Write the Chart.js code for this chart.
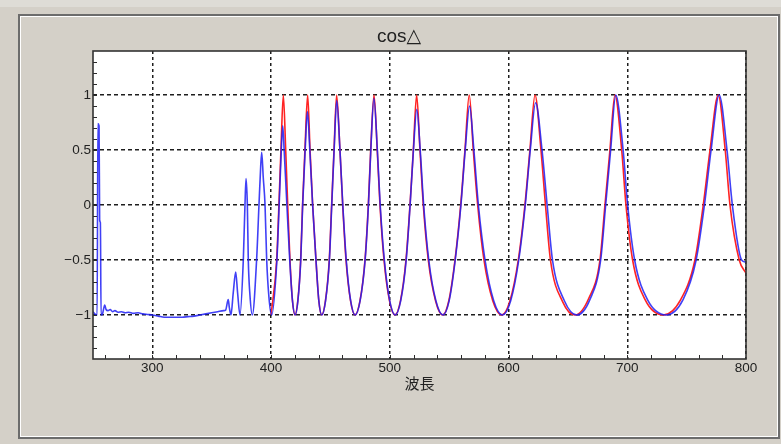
<!DOCTYPE html>
<html>
<head>
<meta charset="utf-8">
<script src="https://cdn.jsdelivr.net/npm/chart.js@4.4.1/dist/chart.umd.min.js"></script>
<style>
  html, body { margin: 0; padding: 0; }
  body { width: 781px; height: 444px; background: #d4d0c8; position: relative; overflow: hidden; }
  #strip { position: absolute; left: 0; top: 0; width: 781px; height: 7px; background: #dedcd6; }
  #frame { position: absolute; left: 18px; top: 14px; width: 762px; height: 425px; box-sizing: border-box;
           border: 2px solid #6c6c6c; box-shadow: inset 1px 1px 0 #fff, inset -1px -1px 0 #fff; }
  #cosChart { position: absolute; left: 19px; top: 15px; }
</style>
</head>
<body>
<div id="strip"></div>
<div id="frame"></div>
<canvas id="cosChart" width="760" height="424"></canvas>
<script>
// measured (blue) - wavelength / cos delta
const blueX = [
  250, 251.5, 253.5, 254.1, 255.1, 255.6, 256.2, 256.8, 258.0, 259.9,
  261.0, 262.6, 264.5, 266.5, 268.5, 271, 274, 277, 280, 284,
  288, 292, 296, 300, 305, 310, 315, 320, 325, 330,
  335, 340, 345, 350, 355, 360, 361.7, 363.9, 364.8, 366.2,
  368.1, 370.2, 371.8, 373.8, 376.6, 378.0, 378.9, 380.0, 380.8, 382.2,
  384.2, 387.8, 389.8, 391.2, 392.1, 393.4, 394.9, 396.3, 398.2, 400.5,
  404.9, 406.8, 408.6, 409.8, 411.0, 413.3, 415.7, 418.0, 420.3,
  422.6, 425.0, 426.6, 428.7, 430.6, 432.6, 435.0, 437.8, 440.2, 442.7,
  445.9, 449.1, 451.1, 453.1, 455.3, 458.0, 460.4, 463.3, 467.0, 470.8,
  475.0, 479.2, 482.0, 484.0, 486.6, 489.5, 491.9, 495.4, 499.9, 504.5,
  509.2, 513.8, 517.1, 519.9, 522.7, 525.6, 528.5, 532.8, 538.8, 544.8,
  550.0, 555.1, 559.9, 563.5, 567.2, 570.8, 574.6, 580.2, 587.5, 594.8,
  601.8, 608.6, 614.1, 618.3, 622.8, 628.2, 632.5, 637.0, 647.0, 657.5,
  668.5, 677.6, 681.8, 686.0, 690.3, 696.5, 700.3, 706.2, 717.0, 733.0,
  747.0, 758.0, 765.0, 770.6, 777.4, 784.0, 788.5, 796.3, 800
];
const blueY = [
  -0.97, -0.99, -1.0, 0.74, 0.72, -0.14, -0.16, -1.0, -0.99, -0.91,
  -0.95, -0.96, -0.95, -0.97, -0.96, -0.975, -0.97, -0.98, -0.975, -0.985,
  -0.98, -0.99, -0.995, -1.0, -1.01, -1.02, -1.02, -1.02, -1.02, -1.015,
  -1.01, -1.0, -0.99, -0.98, -0.97, -0.96, -0.955, -0.86, -0.93, -1.0,
  -0.8, -0.61, -0.8, -1.0, -0.5, 0, 0.24, 0, -0.5, -0.82,
  -1.0, -0.5, 0, 0.34, 0.48, 0.25, 0, -0.5, -0.84, -1,
  -0.5, 0, 0.5, 0.72, 0.5, 0, -0.5, -0.87, -1,
  -0.87, -0.5, 0, 0.5, 0.85, 0.5, 0, -0.5, -0.87, -1,
  -0.87, -0.5, 0, 0.5, 0.95, 0.5, 0, -0.5, -0.87, -1,
  -0.87, -0.5, 0, 0.5, 0.97, 0.5, 0, -0.5, -0.87, -1,
  -0.87, -0.5, 0, 0.5, 0.87, 0.5, 0, -0.5, -0.87, -1,
  -0.87, -0.5, 0, 0.5, 0.9, 0.5, 0, -0.5, -0.87, -1,
  -0.87, -0.5, 0, 0.5, 0.93, 0.5, 0, -0.5, -0.87, -1,
  -0.86, -0.5, 0, 0.5, 1, 0.5, 0, -0.5, -0.86, -1,
  -0.86, -0.5, 0, 0.5, 1, 0.5, 0, -0.5, -0.52
];

// fitted (red)
const redX = [
  400, 404.7, 406.6, 408.3, 410.3, 412.3, 414.0, 415.9, 418.0, 420.1,
  422.5, 424.9, 426.5, 428.5, 430.8, 432.8, 435.0, 437.8, 440.2, 442.6,
  445.8, 449.0, 451.0, 453.0, 455.2, 458.0, 460.3, 463.1, 466.9, 470.7,
  474.9, 479.1, 481.9, 483.9, 486.7, 489.4, 491.7, 495.1, 499.7, 504.3,
  509.0, 513.6, 517.0, 519.8, 522.6, 525.4, 528.2, 532.4, 538.5, 544.5,
  549.7, 554.9, 559.7, 563.3, 566.9, 570.3, 574.0, 579.3, 586.7, 594.2,
  601.2, 608.2, 613.8, 618.0, 622.3, 627.3, 631.1, 635.3, 645.6, 656.0,
  667.5, 677.0, 681.2, 685.4, 689.6, 695.3, 698.9, 704.5, 715.0, 730.3,
  745.0, 757.0, 764.0, 769.7, 776.6, 782.5, 786.5, 794.3, 800
];
const redY = [
  -1, -0.5, 0, 0.5, 1, 0.5, 0, -0.5, -0.87, -1,
  -0.87, -0.5, 0, 0.5, 1, 0.5, 0, -0.5, -0.87, -1,
  -0.87, -0.5, 0, 0.5, 1, 0.5, 0, -0.5, -0.87, -1,
  -0.87, -0.5, 0, 0.5, 1, 0.5, 0, -0.5, -0.87, -1,
  -0.87, -0.5, 0, 0.5, 1, 0.5, 0, -0.5, -0.87, -1,
  -0.87, -0.5, 0, 0.5, 1, 0.5, 0, -0.5, -0.87, -1,
  -0.87, -0.5, 0, 0.5, 1, 0.5, 0, -0.5, -0.88, -1,
  -0.85, -0.5, 0, 0.5, 1, 0.5, 0, -0.5, -0.86, -1,
  -0.86, -0.5, 0, 0.5, 1, 0.5, 0, -0.5, -0.62
];

// axes
const xTicks = [300, 400, 500, 600, 700, 800];
const yTicks = [-1, -0.5, 0, 0.5, 1];
const yTickLabels = ['\u22121', '\u22120.5', '0', '0.5', '1'];
const xMinor = [260, 280, 300, 320, 340, 360, 380, 400, 420, 440, 460, 480, 500, 520,
                540, 560, 580, 600, 620, 640, 660, 680, 700, 720, 740, 760, 780];
const yMinor = [-1.3, -1.2, -1.1, -1, -0.9, -0.8, -0.7, -0.6, -0.5, -0.4, -0.3, -0.2, -0.1, 0,
                0.1, 0.2, 0.3, 0.4, 0.5, 0.6, 0.7, 0.8, 0.9, 1, 1.1, 1.2, 1.3];

const toPoints = (xs, ys) => xs.map((x, i) => ({x: x, y: ys[i]}));

// white plot area, outline and small inward ticks
const plotFrame = {
    id: 'plotFrame',
    beforeDraw(chart) {
        const a = chart.chartArea, ctx = chart.ctx;
        ctx.save();
        ctx.fillStyle = '#ffffff';
        ctx.fillRect(a.left, a.top, a.right - a.left, a.bottom - a.top);
        ctx.restore();
    },
    afterDatasetsDraw(chart) {
        const a = chart.chartArea, ctx = chart.ctx;
        const sx = chart.scales.x, sy = chart.scales.y;
        ctx.save();
        ctx.strokeStyle = '#2a2a2a';
        ctx.lineWidth = 1;
        ctx.beginPath();
        xMinor.forEach(v => {
            const px = Math.round(sx.getPixelForValue(v)) + 0.5;
            ctx.moveTo(px, a.bottom);
            ctx.lineTo(px, a.bottom - 4);
        });
        yMinor.forEach(v => {
            const py = Math.round(sy.getPixelForValue(v)) + 0.5;
            ctx.moveTo(a.left, py);
            ctx.lineTo(a.left + 4, py);
        });
        ctx.stroke();
        ctx.lineWidth = 1.6;
        ctx.strokeStyle = '#333333';
        ctx.strokeRect(a.left, a.top, a.right - a.left, a.bottom - a.top);
        ctx.restore();
    }
};

var ctx = document.getElementById("cosChart").getContext("2d");
var myChart = new Chart(ctx, {
    type: "line",
    data: {
        datasets: [{
            label: "blue",
            data: toPoints(blueX, blueY),
            borderColor: "rgba(30, 30, 245, 0.85)",
            borderWidth: 1.6,
            pointRadius: 0,
            cubicInterpolationMode: "monotone"
        },
        {
            label: "red",
            data: toPoints(redX, redY),
            borderColor: "rgb(255, 35, 35)",
            borderWidth: 1.6,
            pointRadius: 0,
            cubicInterpolationMode: "monotone"
        }]
    },
    options: {
        responsive: false,
        animation: false,
        // equal side padding keeps the title centred on the frame
        layout: { padding: { left: 33, right: 33, top: 0, bottom: 0 } },
        plugins: {
            legend: { display: false },
            tooltip: { enabled: false },
            title: {
                display: true,
                text: "cos\u25B3",
                color: "#222",
                font: { family: "'Liberation Sans', 'DejaVu Sans', sans-serif", size: 19, weight: "normal" },
                padding: { top: 10, bottom: 3.2 }
            }
        },
        scales: {
            x: {
                type: "linear",
                min: 250,
                max: 800,
                afterBuildTicks: s => { s.ticks = xTicks.map(v => ({value: v})); },
                afterFit: s => { s.height = 80; },
                ticks: {
                    autoSkip: false,
                    maxRotation: 0,
                    padding: 1,
                    color: "#222",
                    font: { family: "'Liberation Sans', Arial, sans-serif", size: 13.5 },
                    callback: v => String(v)
                },
                grid: { color: "#1e1e1e", lineWidth: 1.5, drawTicks: false },
                border: { display: false, dash: [3, 3] },
                title: {
                    display: true,
                    text: "波長",
                    color: "#222",
                    font: { family: "'Noto Sans CJK JP', sans-serif", size: 15 },
                    padding: { top: 0, bottom: 46.5 }
                }
            },
            y: {
                min: -1.4,
                max: 1.4,
                afterBuildTicks: s => { s.ticks = yTicks.map(v => ({value: v})); },
                afterFit: s => { s.width = 41; },
                ticks: {
                    autoSkip: false,
                    padding: 2,
                    color: "#222",
                    font: { family: "'Liberation Sans', Arial, sans-serif", size: 13.5 },
                    callback: (v, i) => yTickLabels[i]
                },
                grid: { color: "#1e1e1e", lineWidth: 1.5, drawTicks: false },
                border: { display: false, dash: [4, 3] }
            }
        }
    },
    plugins: [plotFrame]
});
</script>
</body>
</html>
